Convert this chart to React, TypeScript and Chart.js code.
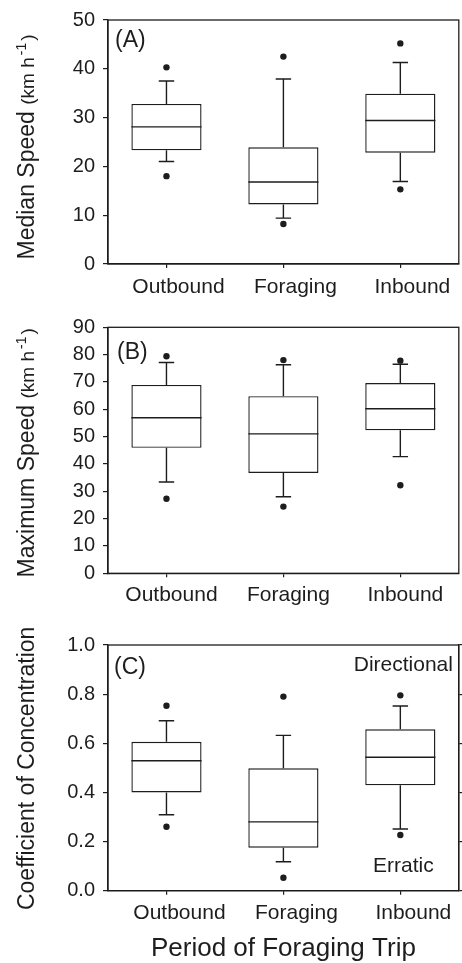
import React, { useEffect, useRef } from 'react';
import { Chart, registerables } from 'chart.js';

Chart.register(...registerables);

// ---------- data ----------
const categories = ['Outbound', 'Foraging', 'Inbound'];

// (A) Median speed (km h-1)
const medianTicks = [0, 10, 20, 30, 40, 50];
const medianWhiskerLow = [21.0, 9.4, 16.9];
const medianQ1 = [23.3, 12.2, 22.8];
const medianMedian = [28.1, 16.8, 29.4];
const medianQ3 = [32.8, 23.9, 34.9];
const medianWhiskerHigh = [37.5, 37.9, 41.3];
const medianOutLow = [18.0, 8.2, 15.3];
const medianOutHigh = [40.3, 42.5, 45.2];

// (B) Maximum speed (km h-1)
const maxTicks = [0, 10, 20, 30, 40, 50, 60, 70, 80, 90];
const maxWhiskerLow = [33.4, 28.0, 42.7];
const maxQ1 = [45.9, 36.7, 52.3];
const maxMedian = [56.9, 51.0, 60.2];
const maxQ3 = [68.9, 64.8, 69.6];
const maxWhiskerHigh = [77.1, 76.3, 76.5];
const maxOutLow = [27.3, 24.4, 32.2];
const maxOutHigh = [79.4, 78.0, 77.8];

// (C) Coefficient of concentration
const coefTicks = [0, 0.2, 0.4, 0.6, 0.8, 1.0];
const coefWhiskerLow = [0.309, 0.118, 0.251];
const coefQ1 = [0.4, 0.175, 0.429];
const coefMedian = [0.529, 0.28, 0.543];
const coefQ3 = [0.606, 0.498, 0.657];
const coefWhiskerHigh = [0.692, 0.632, 0.752];
const coefOutLow = [0.26, 0.053, 0.227];
const coefOutHigh = [0.753, 0.79, 0.795];

const xAxisTitle = 'Period of Foraging Trip';

// ---------- styling ----------
const FONT = '"Liberation Sans", Arial, Helvetica, sans-serif';
const INK = '#1d1d1d';
const LINE = 1.4;

type Spec = {
  key: string;
  top: number;
  height: number;
  areaTop: number;
  areaBottom: number;
  areaRight: number;
  letter: string;
  letterDx: number;
  letterDy: number;
  labelOffset: number;
  labelPad: number;
  titleDy: number;
  title: string;
  unit: boolean;
  ticks: number[];
  fmt: (v: number) => string;
  wLow: number[];
  q1: number[];
  med: number[];
  q3: number[];
  wHigh: number[];
  oLow: number[];
  oHigh: number[];
  rightTicks: boolean;
  notes: boolean;
  xTitle: boolean;
};

const specs: Spec[] = [
  {
    key: 'A', top: 0, height: 305, areaTop: 15, areaBottom: 264, areaRight: 461,
    letter: '(A)', letterDx: 7, letterDy: 21, labelOffset: 12, labelPad: 7, titleDy: 5,
    title: 'Median Speed', unit: true, ticks: medianTicks, fmt: (v) => String(v),
    wLow: medianWhiskerLow, q1: medianQ1, med: medianMedian, q3: medianQ3, wHigh: medianWhiskerHigh,
    oLow: medianOutLow, oHigh: medianOutHigh, rightTicks: false, notes: false, xTitle: false,
  },
  {
    key: 'B', top: 305, height: 320, areaTop: 22.3, areaBottom: 268.3, areaRight: 461,
    letter: '(B)', letterDx: 9, letterDy: 25, labelOffset: 5, labelPad: 5, titleDy: 2.5,
    title: 'Maximum Speed', unit: true, ticks: maxTicks, fmt: (v) => String(v),
    wLow: maxWhiskerLow, q1: maxQ1, med: maxMedian, q3: maxQ3, wHigh: maxWhiskerHigh,
    oLow: maxOutLow, oHigh: maxOutHigh, rightTicks: false, notes: false, xTitle: false,
  },
  {
    key: 'C', top: 625, height: 338, areaTop: 20, areaBottom: 265.7, areaRight: 459.5,
    letter: '(C)', letterDx: 6, letterDy: 23, labelOffset: 13, labelPad: 6, titleDy: 0.5,
    title: 'Coefficient of Concentration', unit: false, ticks: coefTicks, fmt: (v) => v.toFixed(1),
    wLow: coefWhiskerLow, q1: coefQ1, med: coefMedian, q3: coefQ3, wHigh: coefWhiskerHigh,
    oLow: coefOutLow, oHigh: coefOutHigh, rightTicks: true, notes: true, xTitle: true,
  },
];

const AREA_LEFT = 108;
const WIDTH = 462;

function decorPlugin(spec: Spec) {
  return {
    id: 'decor' + spec.key,
    afterDatasetsDraw(chart: any) {
      const ctx = chart.ctx;
      const xs = chart.scales.x;
      const ys = chart.scales.y;
      const meta = chart.getDatasetMeta(0);
      ctx.save();
      ctx.strokeStyle = INK;
      ctx.lineWidth = LINE;
      ctx.lineCap = 'butt';
      spec.med.forEach((m, i) => {
        const bar = meta.data[i];
        const cx = xs.getPixelForValue(i);
        const half = bar.width / 2;
        const cap = bar.width * 0.11;
        const py = (v: number) => ys.getPixelForValue(v);
        ctx.beginPath();
        ctx.moveTo(cx - half, py(m));
        ctx.lineTo(cx + half, py(m));
        ctx.moveTo(cx, py(spec.q3[i]));
        ctx.lineTo(cx, py(spec.wHigh[i]));
        ctx.moveTo(cx - cap, py(spec.wHigh[i]));
        ctx.lineTo(cx + cap, py(spec.wHigh[i]));
        ctx.moveTo(cx, py(spec.q1[i]));
        ctx.lineTo(cx, py(spec.wLow[i]));
        ctx.moveTo(cx - cap, py(spec.wLow[i]));
        ctx.lineTo(cx + cap, py(spec.wLow[i]));
        ctx.stroke();
      });
      ctx.restore();
    },
    afterDraw(chart: any) {
      const ctx = chart.ctx;
      const a = chart.chartArea;
      const xs = chart.scales.x;
      ctx.save();
      // frame
      ctx.strokeStyle = INK;
      ctx.lineWidth = 1.3;
      ctx.strokeRect(a.left, a.top, a.right - a.left, a.bottom - a.top);

      ctx.fillStyle = INK;
      // panel letter
      ctx.font = `23px ${FONT}`;
      ctx.textAlign = 'left';
      ctx.textBaseline = 'middle';
      ctx.fillText(spec.letter, a.left + spec.letterDx, a.top + spec.letterDy);

      // notes
      if (spec.notes) {
        ctx.font = `21px ${FONT}`;
        ctx.textAlign = 'center';
        const cx = xs.getPixelForValue(2) + 3;
        ctx.fillText('Directional', cx, a.top + 20);
        ctx.fillText('Erratic', cx, a.bottom - 24);
      }

      // x title
      if (spec.xTitle) {
        ctx.font = `26px ${FONT}`;
        ctx.textAlign = 'center';
        ctx.textBaseline = 'middle';
        ctx.fillText(xAxisTitle, (a.left + a.right) / 2, a.bottom + 58);
      }

      // y title (rotated, mixed sizes)
      ctx.translate(34, (a.top + a.bottom) / 2 + spec.titleDy);
      ctx.rotate(-Math.PI / 2);
      ctx.textAlign = 'left';
      ctx.textBaseline = 'alphabetic';
      const mainFont = `23px ${FONT}`;
      const unitFont = `19px ${FONT}`;
      const supFont = `14px ${FONT}`;
      const parts: [string, string, number, number][] = [[spec.title, mainFont, 0, 0]];
      if (spec.unit) {
        ctx.font = mainFont;
        const sp = ctx.measureText(' ').width;
        parts[0][3] = sp;
        parts.push(['(km h', unitFont, 0, 2]);
        parts.push(['-1', supFont, -8, 2]);
        parts.push([')', unitFont, 0, 0]);
      }
      let total = 0;
      parts.forEach((p) => {
        ctx.font = p[1];
        total += ctx.measureText(p[0]).width + p[3];
      });
      let x = -total / 2;
      parts.forEach((p) => {
        ctx.font = p[1];
        ctx.fillText(p[0], x, p[2]);
        x += ctx.measureText(p[0]).width + p[3];
      });
      ctx.restore();
    },
  };
}

function Panel({ spec }: { spec: Spec }) {
  const ref = useRef<HTMLCanvasElement | null>(null);
  useEffect(() => {
    if (!ref.current) return;
    const tickSetter = (s: any) => {
      s.ticks = spec.ticks.map((v) => ({ value: v }));
    };
    const scales: any = {
      x: {
        type: 'category',
        labels: categories,
        offset: true,
        grid: { display: true, drawOnChartArea: false, offset: false, tickLength: 4, color: INK, lineWidth: 1.2 },
        border: { display: true, color: INK, width: 1.3 },
        ticks: {
          font: { family: FONT, size: 21 },
          color: INK,
          padding: spec.labelPad,
          maxRotation: 0,
          labelOffset: spec.labelOffset,
        },
        afterFit: (s: any) => {
          s.height = spec.height - spec.areaBottom;
        },
      },
      y: {
        type: 'linear',
        position: 'left',
        min: spec.ticks[0],
        max: spec.ticks[spec.ticks.length - 1],
        afterBuildTicks: tickSetter,
        grid: { display: true, drawOnChartArea: false, tickLength: 5, color: INK, lineWidth: 1.2 },
        border: { display: true, color: INK, width: 1.3 },
        ticks: {
          font: { family: FONT, size: 20 },
          color: INK,
          padding: 8,
          callback: (v: any) => spec.fmt(Number(v)),
        },
        afterFit: (s: any) => {
          s.width = AREA_LEFT;
        },
      },
    };
    if (spec.rightTicks) {
      scales.y2 = {
        type: 'linear',
        position: 'right',
        min: spec.ticks[0],
        max: spec.ticks[spec.ticks.length - 1],
        afterBuildTicks: tickSetter,
        grid: { display: true, drawOnChartArea: false, tickLength: 4, color: INK, lineWidth: 1.2 },
        border: { display: true, color: INK, width: 1.3 },
        ticks: { display: false },
        afterFit: (s: any) => {
          s.width = WIDTH - spec.areaRight;
        },
      };
    }
    const chart = new Chart(ref.current, {
      type: 'bar',
      data: {
        labels: categories,
        datasets: [
          {
            type: 'bar',
            data: spec.q1.map((v, i) => [v, spec.q3[i]]) as any,
            backgroundColor: '#ffffff',
            borderColor: INK,
            borderWidth: LINE,
            borderSkipped: false,
            barPercentage: 0.6,
            categoryPercentage: 1,
          } as any,
          {
            type: 'line',
            data: spec.oHigh,
            showLine: false,
            pointRadius: 3.2,
            pointBackgroundColor: INK,
            pointBorderWidth: 0,
            pointHoverRadius: 3.2,
          } as any,
          {
            type: 'line',
            data: spec.oLow,
            showLine: false,
            pointRadius: 3.2,
            pointBackgroundColor: INK,
            pointBorderWidth: 0,
            pointHoverRadius: 3.2,
          } as any,
        ],
      },
      options: {
        responsive: false,
        maintainAspectRatio: false,
        animation: false,
        devicePixelRatio: 1,
        layout: {
          padding: {
            top: spec.areaTop,
            bottom: 0,
            left: 0,
            right: spec.rightTicks ? 0 : WIDTH - spec.areaRight,
          },
        },
        plugins: {
          legend: { display: false },
          tooltip: { enabled: false },
          title: { display: false },
        },
        scales,
      },
      plugins: [decorPlugin(spec)],
    } as any);
    return () => chart.destroy();
  }, [spec]);
  return (
    <div style={{ position: 'absolute', left: 0, top: spec.top, width: WIDTH, height: spec.height }}>
      <canvas ref={ref} width={WIDTH} height={spec.height} style={{ display: 'block' }} />
    </div>
  );
}

export default function App() {
  return (
    <div
      style={{
        position: 'absolute',
        left: 0,
        top: 0,
        width: WIDTH,
        height: 963,
        background: '#ffffff',
        overflow: 'hidden',
      }}
    >
      {specs.map((s) => (
        <Panel key={s.key} spec={s} />
      ))}
    </div>
  );
}
